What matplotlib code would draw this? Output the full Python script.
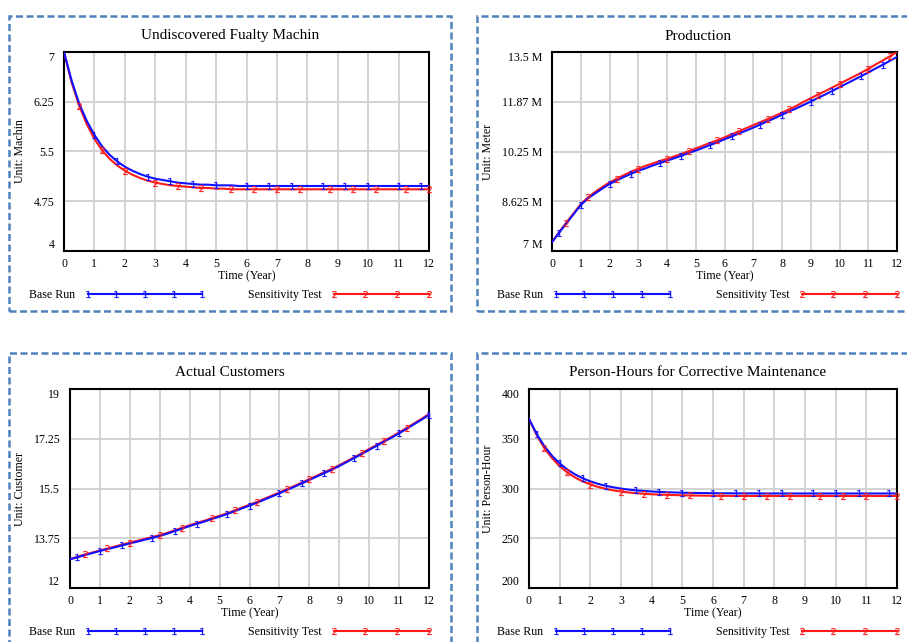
import numpy as np
import matplotlib
matplotlib.use("Agg")
import matplotlib.pyplot as plt
from matplotlib.lines import Line2D
from matplotlib.patches import Rectangle
from matplotlib.legend_handler import HandlerLine2D

plt.rcParams['font.family'] = ['Liberation Serif', 'DejaVu Serif']

W, H = 907, 642

# time axis: 0..12 years, quarter-year steps
time = np.linspace(0, 12, 49)

machin_base = [7.00, 6.57, 6.22, 5.96, 5.75, 5.58, 5.45, 5.35, 5.27, 5.21, 5.16, 5.12, 5.09,
               5.07, 5.05, 5.03, 5.02, 5.01, 5.00, 5.00, 4.99, 4.99, 4.99, 4.98, 4.98,
               4.98, 4.98, 4.98, 4.98, 4.98, 4.98, 4.98, 4.98, 4.98, 4.98, 4.98, 4.98,
               4.98, 4.98, 4.98, 4.98, 4.98, 4.98, 4.98, 4.98, 4.98, 4.98, 4.98, 4.98]
machin_sens = [7.00, 6.54, 6.19, 5.91, 5.69, 5.52, 5.39, 5.29, 5.21, 5.15, 5.10, 5.06, 5.03,
               5.01, 4.99, 4.98, 4.97, 4.96, 4.95, 4.95, 4.94, 4.94, 4.93, 4.93, 4.93,
               4.93, 4.93, 4.93, 4.93, 4.93, 4.93, 4.93, 4.93, 4.93, 4.93, 4.93, 4.93,
               4.93, 4.93, 4.93, 4.93, 4.93, 4.93, 4.93, 4.93, 4.93, 4.93, 4.93, 4.93]

# production in millions of meters
prod_base = [7.29, 7.60, 7.90, 8.20, 8.50, 8.72, 8.88, 9.04, 9.19, 9.30, 9.42, 9.52, 9.62,
             9.70, 9.79, 9.87, 9.95, 10.03, 10.11, 10.20, 10.28, 10.37, 10.46, 10.55, 10.65,
             10.74, 10.84, 10.93, 11.03, 11.13, 11.24, 11.34, 11.45, 11.56, 11.66, 11.77, 11.88,
             12.00, 12.11, 12.23, 12.35, 12.47, 12.59, 12.71, 12.83, 12.96, 13.08, 13.21, 13.34]
prod_sens = [7.29, 7.62, 7.93, 8.23, 8.53, 8.75, 8.93, 9.09, 9.24, 9.36, 9.48, 9.59, 9.69,
             9.78, 9.86, 9.94, 10.01, 10.09, 10.17, 10.26, 10.35, 10.44, 10.53, 10.62, 10.71,
             10.81, 10.91, 11.01, 11.11, 11.21, 11.31, 11.41, 11.52, 11.63, 11.74, 11.87, 11.99,
             12.11, 12.22, 12.34, 12.46, 12.58, 12.70, 12.82, 12.95, 13.09, 13.22, 13.36, 13.50]

cust_base = [13.01, 13.08, 13.16, 13.23, 13.30, 13.37, 13.43, 13.50, 13.57, 13.63, 13.70, 13.76, 13.83,
             13.91, 14.00, 14.09, 14.18, 14.26, 14.34, 14.43, 14.51, 14.60, 14.70, 14.80, 14.90,
             15.00, 15.11, 15.22, 15.33, 15.45, 15.56, 15.68, 15.80, 15.92, 16.04, 16.16, 16.29,
             16.43, 16.57, 16.71, 16.86, 17.00, 17.15, 17.29, 17.44, 17.60, 17.76, 17.92, 18.09]
cust_sens = [13.01, 13.10, 13.18, 13.25, 13.32, 13.39, 13.46, 13.53, 13.60, 13.66, 13.73, 13.79, 13.86,
             13.94, 14.03, 14.12, 14.21, 14.29, 14.37, 14.46, 14.54, 14.63, 14.73, 14.83, 14.93,
             15.03, 15.14, 15.25, 15.36, 15.48, 15.59, 15.71, 15.83, 15.95, 16.07, 16.19, 16.32,
             16.46, 16.60, 16.74, 16.89, 17.03, 17.18, 17.32, 17.47, 17.63, 17.79, 17.95, 18.12]

hours_base = [370.0, 354.8, 342.6, 332.9, 325.2, 319.1, 314.2, 310.3, 307.2, 304.7, 302.7, 301.2, 299.9,
              298.9, 298.1, 297.5, 297.0, 296.6, 296.3, 296.0, 295.8, 295.6, 295.5, 295.4, 295.3,
              295.2, 295.2, 295.1, 295.1, 295.1, 295.0, 295.0, 295.0, 295.0, 295.0, 295.0, 295.0,
              295.0, 295.0, 295.0, 295.0, 295.0, 295.0, 295.0, 295.0, 295.0, 295.0, 295.0, 295.0]
hours_sens = [370.0, 353.6, 340.6, 330.5, 322.4, 316.1, 311.1, 307.1, 304.0, 301.6, 299.7, 298.1, 296.9,
              296.0, 295.3, 294.7, 294.2, 293.9, 293.6, 293.4, 293.2, 293.0, 292.9, 292.8, 292.7,
              292.6, 292.6, 292.5, 292.5, 292.5, 292.5, 292.5, 292.5, 292.5, 292.5, 292.5, 292.5,
              292.5, 292.5, 292.5, 292.5, 292.5, 292.5, 292.5, 292.5, 292.5, 292.5, 292.5, 292.5]

panels = [
    dict(title="Undiscovered Fualty Machin", ylabel="Unit: Machin",
         base=machin_base, sens=machin_sens,
         yticks=[4, 4.75, 5.5, 6.25, 7], ylabels=["4", "4.75", "5.5", "6.25", "7"],
         base_marks=[1, 1.75, 2.75, 3.5, 4.25, 5, 6, 6.75, 7.5, 8.5, 9.25, 10, 11, 11.75],
         sens_marks=[0.5, 1.25, 2, 3, 3.75, 4.5, 5.5, 6.25, 7, 7.75, 8.75, 9.5, 10.25, 11.25, 12]),
    dict(title="Production", ylabel="Unit: Meter",
         base=prod_base, sens=prod_sens,
         yticks=[7, 8.625, 10.25, 11.875, 13.5],
         ylabels=["7 M", "8.625 M", "10.25 M", "11.87 M", "13.5 M"],
         base_marks=[0.25, 1, 2, 2.75, 3.75, 4.5, 5.5, 6.25, 7.25, 8, 9, 9.75, 10.75, 11.5],
         sens_marks=[0.5, 1.25, 2.25, 3, 4, 4.75, 5.75, 6.5, 7.5, 8.25, 9.25, 10, 11, 11.75]),
    dict(title="Actual Customers", ylabel="Unit: Customer",
         base=cust_base, sens=cust_sens,
         yticks=[12, 13.75, 15.5, 17.25, 19], ylabels=["12", "13.75", "15.5", "17.25", "19"],
         base_marks=[0.25, 1, 1.75, 2.75, 3.5, 4.25, 5.25, 6, 7, 7.75, 8.5, 9.5, 10.25, 11, 12],
         sens_marks=[0.5, 1.25, 2, 3, 3.75, 4.75, 5.5, 6.25, 7.25, 8, 8.75, 9.75, 10.5, 11.25]),
    dict(title="Person-Hours for Corrective Maintenance", ylabel="Unit: Person-Hour",
         base=hours_base, sens=hours_sens,
         yticks=[200, 250, 300, 350, 400], ylabels=["200", "250", "300", "350", "400"],
         base_marks=[0.25, 1, 1.75, 2.5, 3.5, 4.25, 5, 6, 6.75, 7.5, 8.25, 9.25, 10, 10.75, 11.75],
         sens_marks=[0.5, 1.25, 2, 3, 3.75, 4.5, 5.25, 6.25, 7, 7.75, 8.5, 9.5, 10.25, 11, 12]),
]

# layout in pixels: axes box (x0, y0, x1, y1), panel border, title centre, ylabel x, legend row
axes_px = [(64, 52, 429, 251), (552, 52, 897, 251), (70, 389, 429, 588), (529, 389, 897, 588)]
border_px = [(9, 16, 451, 311), (477, 16, 919, 311), (9, 353, 451, 648), (477, 353, 919, 648)]
title_px = [(230, 36), (698, 36), (230, 373), (698, 373)]
ylab_x = [20, 488, 20, 488]
xlab_y = [276, 276, 613, 613]
legend_px = [(29, 248, 295), (497, 716, 295), (29, 248, 632), (497, 716, 632)]

BLUE = '#1010ff'
RED = '#ff1a1a'
FS = 8.6
MS = 5

fig = plt.figure(figsize=(W / 100, H / 100), dpi=100)


def fx(px):
    return px / W


def fy(py):
    return 1 - py / H


for i, p in enumerate(panels):
    x0, y0, x1, y1 = axes_px[i]
    ax = fig.add_axes([fx(x0), fy(y1), fx(x1 - x0), (y1 - y0) / H])

    ax.plot(time, p['sens'], color=RED, lw=1.5, zorder=3)
    ax.plot(time, p['base'], color=BLUE, lw=1.5, zorder=4)
    sidx = [int(round(m * 4)) for m in p['sens_marks']]
    bidx = [int(round(m * 4)) for m in p['base_marks']]
    ax.plot(time, p['sens'], ls='none', marker='$2$', ms=MS, mew=0.2, color=RED,
            markevery=sidx, zorder=5, clip_on=False)
    ax.plot(time, p['base'], ls='none', marker='$1$', ms=MS, mew=0.2, color=BLUE,
            markevery=bidx, zorder=5, clip_on=False)

    ax.set_xlim(0, 12)
    ax.set_ylim(p['yticks'][0], p['yticks'][-1])
    ax.set_xticks(range(13))
    ax.set_yticks(p['yticks'])
    ax.set_yticklabels(p['ylabels'])
    ax.tick_params(length=0, labelsize=FS, colors='black')
    ax.tick_params(axis='x', pad=5)
    ax.tick_params(axis='y', pad=7)
    labs = ax.get_yticklabels()
    labs[0].set_va('bottom')
    labs[-1].set_va('top')
    ax.grid(True, color='#d2d2d2', lw=1.4)
    ax.set_axisbelow(True)
    for s in ax.spines.values():
        s.set_linewidth(1.5)
        s.set_color('black')

    ax.set_ylabel(p['ylabel'], fontsize=FS)
    ax.yaxis.label.set_va('center')
    ax.yaxis.set_label_coords((ylab_x[i] - x0) / (x1 - x0), 0.5)
    fig.text(fx((x0 + x1) / 2), fy(xlab_y[i]), "Time (Year)", fontsize=FS,
             ha='center', va='center')

    tx, ty = title_px[i]
    fig.text(fx(tx), fy(ty), p['title'], fontsize=11, ha='center', va='center')

    bx0, by0, bx1, by1 = border_px[i]
    fig.add_artist(Rectangle((fx(bx0), fy(by1)), fx(bx1 - bx0), (by1 - by0) / H,
                             transform=fig.transFigure, fill=False, ec='#4f81bd',
                             lw=1.8, ls=(0, (2.8, 1.4)), clip_on=False))

    # legend row: "Base Run ---1---1---" and "Sensitivity Test ---2---2---"
    lb, ls_, ly = legend_px[i]
    hb = Line2D([], [], color=BLUE, lw=1.5, marker='$1$', ms=MS, mew=0.2)
    hs = Line2D([], [], color=RED, lw=1.5, marker='$2$', ms=MS, mew=0.2)
    leg1 = ax.legend([hb], ["Base Run"], loc='center left',
                     bbox_to_anchor=(fx(lb), fy(ly)), bbox_transform=fig.transFigure,
                     frameon=False, markerfirst=False, handlelength=10.2,
                     handletextpad=0.75, borderpad=0, borderaxespad=0, fontsize=FS,
                     handler_map={hb: HandlerLine2D(numpoints=5)})
    ax.add_artist(leg1)
    ax.legend([hs], ["Sensitivity Test"], loc='center left',
              bbox_to_anchor=(fx(ls_), fy(ly)), bbox_transform=fig.transFigure,
              frameon=False, markerfirst=False, handlelength=8.6,
              handletextpad=0.7, borderpad=0, borderaxespad=0, fontsize=FS,
              handler_map={hs: HandlerLine2D(numpoints=4)})

fig.savefig("out.png", dpi=100)
